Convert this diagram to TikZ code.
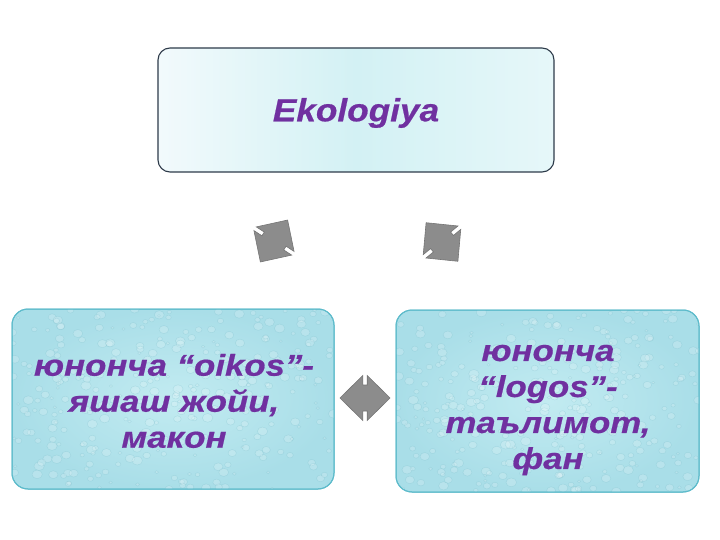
\documentclass[tikz,border=0pt]{standalone}
\usepackage{fontspec}
\setmainfont{Liberation Sans}
\newfontfamily\boxfont[FakeStretch=1.16, BoldItalicFeatures={FakeBold=0.6}]{Liberation Sans}
\newfontfamily\topfont[FakeStretch=1.1, BoldItalicFeatures={FakeBold=0.6}]{Liberation Sans}
\definecolor{txtpurple}{HTML}{7030A0}
\definecolor{topborder}{HTML}{2E3B4A}
\definecolor{topleft}{HTML}{F2FAFC}
\definecolor{topmid}{HTML}{D3F1F4}
\definecolor{topright}{HTML}{E6F7F9}
\definecolor{aquaborder}{HTML}{5DBBCB}
\definecolor{aquain}{HTML}{C2EBF1}
\definecolor{aquaout}{HTML}{A9DEE8}
\definecolor{dropdark}{HTML}{6FB8C6}
\definecolor{arrowgray}{HTML}{8C8C8C}
\definecolor{arrowedge}{HTML}{757575}
\tikzset{
  topbox/.style={draw=topborder, line width=1.1pt, rounded corners=12pt,
    left color=topleft, right color=topright, middle color=topmid},
  toptext/.style={text=txtpurple, font=\topfont\fontsize{32}{38}\selectfont\bfseries\itshape},
  aquabox/.style={draw=aquaborder, line width=1pt, rounded corners=16pt,
    inner color=aquain, outer color=aquaout},
  aquatext/.style={text=txtpurple, align=center,
    font=\boxfont\fontsize{30}{36}\selectfont\bfseries\itshape},
  drop/.style={fill=white, fill opacity=0.18, draw=dropdark, draw opacity=0.3, line width=0.4pt},
  dblarrow/.pic={
    \path[fill=arrowgray, draw=arrowedge, line width=0.6pt, line join=miter]
      (-25,0) -- (-2.2,-22.5) -- (-2.2,-13) -- (2.2,-13) -- (2.2,-22.5) -- (25,0)
      -- (2.2,22.5) -- (2.2,13) -- (-2.2,13) -- (-2.2,22.5) -- cycle;
  }
}
\newcommand\droplets[4]{% x0 y0 x1 y1
  \begin{scope}
    \clip[rounded corners=16pt] (#1,#2) rectangle (#3,#4);
    \foreach \k in {1,...,320}{
      \pgfmathsetmacro\dx{#1+rnd*(#3-#1)}
      \pgfmathsetmacro\dy{#2+rnd*(#4-#2)}
      \pgfmathsetmacro\dr{1.2+rnd*3.2}
      \path[drop] (\dx,\dy) ellipse [x radius=\dr*1.2, y radius=\dr];
    }
  \end{scope}}
\begin{document}
\begin{tikzpicture}[x=1pt,y=-1pt]
\pgfmathsetseed{7}
\useasboundingbox (0,0) rectangle (720,540);
\fill[white] (0,0) rectangle (720,540);

\node[topbox, minimum width=396pt, minimum height=124pt] (top) at (356,110) {};
\node[toptext] (topText) at (356,113) {Ekologiya};

\node[aquabox, minimum width=322pt, minimum height=180pt] (left) at (173,399) {};
\droplets{12}{309}{334}{489}
\draw[aquaborder, line width=1pt, rounded corners=16pt] (12,309) rectangle (334,489);
\node[aquatext] (leftText) at (174,401) {юнонча “oikos”-\\яшаш жойи,\\макон};

\node[aquabox, minimum width=303pt, minimum height=182pt] (right) at (547.5,401) {};
\droplets{396}{310}{699}{492}
\draw[aquaborder, line width=1pt, rounded corners=16pt] (396,310) rectangle (699,492);
\node[aquatext] (rightText) at (548,410) {юнонча\\“logos”-\\таълимот,\\фан};

\pic[rotate=57] (arrL) at (274,241) {dblarrow};
\pic[rotate=-50.5] (arrR) at (442,242) {dblarrow};
\pic (arrB) at (365,398) {dblarrow};
\end{tikzpicture}
\end{document}
